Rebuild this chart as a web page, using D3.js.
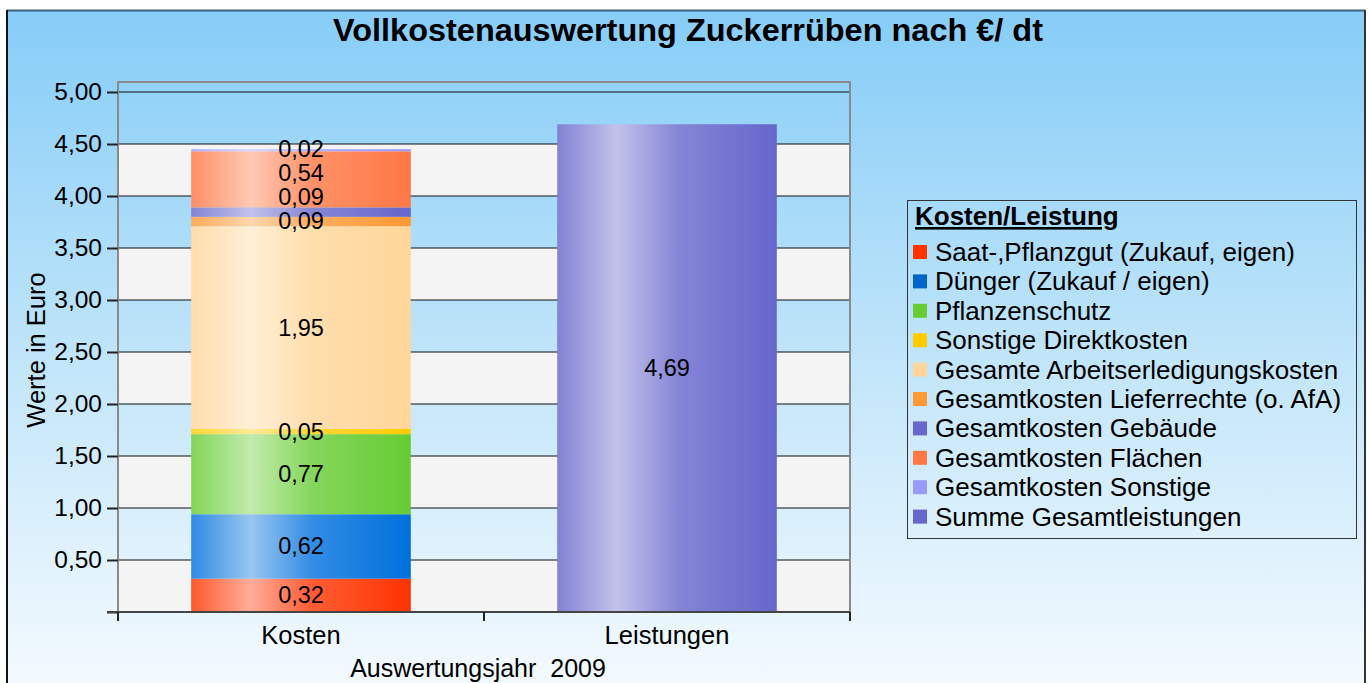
<!DOCTYPE html>
<html>
<head>
<meta charset="utf-8">
<script src="https://cdn.jsdelivr.net/npm/d3@7"></script>
<style>
  body { margin: 0; background: #fff; }
  svg text { font-family: "Liberation Sans", Arial, sans-serif; }
</style>
</head>
<body>
<svg id="chart" width="1369" height="683"></svg>
<script>
'use strict';

// data
var categories = ["Kosten", "Leistungen"];
var seriesNames = [
  "Saat-,Pflanzgut (Zukauf, eigen)",
  "Dünger (Zukauf / eigen)",
  "Pflanzenschutz",
  "Sonstige Direktkosten",
  "Gesamte Arbeitserledigungskosten",
  "Gesamtkosten Lieferrechte (o. AfA)",
  "Gesamtkosten Gebäude",
  "Gesamtkosten Flächen",
  "Gesamtkosten Sonstige",
  "Summe Gesamtleistungen"
];
var kostenValues     = [0.32, 0.62, 0.77, 0.05, 1.95, 0.09, 0.09, 0.54, 0.02, 0];
var leistungenValues = [0, 0, 0, 0, 0, 0, 0, 0, 0, 4.69];
var seriesColors = ["#ff3300", "#0070dd", "#66cc33", "#ffcc00", "#ffd699",
                    "#ff9933", "#6666cc", "#ff7744", "#9999ff", "#6666cc"];
var legendColors = ["#ff3300", "#0066cc", "#66cc33", "#ffcc00", "#ffd699",
                    "#ff9933", "#6666cc", "#ff7744", "#9999ff", "#6666cc"];
var yTicks = [0, 0.5, 1, 1.5, 2, 2.5, 3, 3.5, 4, 4.5, 5];

var svg = d3.select("#chart");
var defs = svg.append("defs");

// background gradient
var bg = defs.append("linearGradient").attr("id", "bg")
  .attr("x1", 0).attr("y1", 0).attr("x2", 0).attr("y2", 1);
bg.append("stop").attr("offset", "0%").attr("stop-color", "#86cdf8");
bg.append("stop").attr("offset", "55%").attr("stop-color", "#c6e7fa");
bg.append("stop").attr("offset", "100%").attr("stop-color", "#f6fbff");

svg.append("rect").attr("x", 7).attr("y", 10).attr("width", 1358).attr("height", 690)
  .attr("fill", "url(#bg)");
svg.append("line").attr("x1", 7).attr("x2", 1365).attr("y1", 10.5).attr("y2", 10.5)
  .attr("stroke", "#3d5f7a").attr("stroke-width", 2);
svg.append("line").attr("x1", 7).attr("x2", 7).attr("y1", 10).attr("y2", 683)
  .attr("stroke", "#111").attr("stroke-width", 2);
svg.append("line").attr("x1", 1365).attr("x2", 1365).attr("y1", 10).attr("y2", 683)
  .attr("stroke", "#333").attr("stroke-width", 2);

// bar gradients (shiny cylinder look)
seriesColors.forEach(function(c, i) {
  var g = defs.append("linearGradient").attr("id", "g" + i)
    .attr("x1", 0).attr("y1", 0).attr("x2", 1).attr("y2", 0);
  g.append("stop").attr("offset", "0%").attr("stop-color", d3.interpolateRgb(c, "#fff")(0.18));
  g.append("stop").attr("offset", "27%").attr("stop-color", d3.interpolateRgb(c, "#fff")(0.6));
  g.append("stop").attr("offset", "55%").attr("stop-color", d3.interpolateRgb(c, "#fff")(0.2));
  g.append("stop").attr("offset", "100%").attr("stop-color", c);
});

// title
svg.append("text").attr("x", 688).attr("y", 41).attr("text-anchor", "middle")
  .attr("font-size", 32).attr("font-weight", "bold")
  .attr("textLength", 710).attr("lengthAdjust", "spacingAndGlyphs")
  .text("Vollkostenauswertung Zuckerrüben nach €/ dt");

var plotLeft = 118, plotRight = 850, plotTop = 82;
var y = d3.scaleLinear().domain([0, 5]).range([612, 92]);
var x = d3.scaleBand().domain(categories).range([plotLeft, plotRight])
  .paddingInner(0.4).paddingOuter(0.2);

// alternating bands
var bands = [0, 1, 2, 3, 4];
svg.append("g").selectAll("rect").data(bands).join("rect")
  .attr("x", plotLeft).attr("width", plotRight - plotLeft)
  .attr("y", function(d) { return y(d + 0.5); })
  .attr("height", function(d) { return y(d) - y(d + 0.5); })
  .attr("fill", "#f4f4f4");

// grid lines
svg.append("g").selectAll("line").data(yTicks.slice(1)).join("line")
  .attr("x1", plotLeft).attr("x2", plotRight)
  .attr("y1", function(d) { return y(d); }).attr("y2", function(d) { return y(d); })
  .attr("stroke", "#111").attr("stroke-width", 1.2);

// plot frame
svg.append("path")
  .attr("d", "M" + plotLeft + "," + y(0) + "V" + plotTop + "H" + plotRight + "V" + y(0))
  .attr("fill", "none").attr("stroke", "#8a8a8a").attr("stroke-width", 2);

// stacked bars
var rows = categories.map(function(c, ci) {
  var vals = ci === 0 ? kostenValues : leistungenValues;
  var r = { cat: c };
  seriesNames.forEach(function(s, i) { r[s] = vals[i]; });
  return r;
});
var stacked = d3.stack().keys(seriesNames)(rows);

var barG = svg.append("g");
stacked.forEach(function(layer, i) {
  barG.selectAll(null).data(layer.filter(function(d) { return d[1] - d[0] > 0; }))
    .join("rect")
    .attr("x", function(d) { return x(d.data.cat); })
    .attr("width", x.bandwidth())
    .attr("y", function(d) { return y(d[1]); })
    .attr("height", function(d) { return y(d[0]) - y(d[1]); })
    .attr("fill", "url(#g" + i + ")");
});

// data labels, pushed apart where segments are thin
var labels = [];
categories.forEach(function(c) {
  var prev = Infinity;
  stacked.forEach(function(layer) {
    var d = layer.find(function(e) { return e.data.cat === c; });
    var v = d[1] - d[0];
    if (v <= 0) return;
    var cy = y((d[0] + d[1]) / 2);
    var ly = Math.min(cy, prev - 24);
    prev = ly;
    labels.push({ cat: c, v: v, y: ly });
  });
});
svg.append("g").selectAll("text").data(labels).join("text")
  .attr("x", function(d) { return x(d.cat) + x.bandwidth() / 2; })
  .attr("y", function(d) { return d.y + 8; })
  .attr("text-anchor", "middle").attr("font-size", 23.5).attr("fill", "#000")
  .text(function(d) { return d3.format(".2f")(d.v).replace(".", ","); });

// y axis
var yAxis = d3.axisLeft(y).tickValues(yTicks).tickSize(11).tickPadding(5)
  .tickFormat(function(d) { return d === 0 ? "" : d3.format(".2f")(d).replace(".", ","); });
var yg = svg.append("g").attr("transform", "translate(" + plotLeft + ",0)").call(yAxis);
yg.select(".domain").remove();
yg.selectAll(".tick line").attr("stroke", "#222").attr("stroke-width", 2);
yg.selectAll(".tick text").attr("font-size", 24.5).attr("fill", "#000")
  .attr("font-family", "Liberation Sans, Arial, sans-serif");

// x axis
var xg = svg.append("g").attr("transform", "translate(0," + y(0) + ")");
xg.append("line").attr("x1", plotLeft - 11).attr("x2", plotRight).attr("y1", 0).attr("y2", 0)
  .attr("stroke", "#444").attr("stroke-width", 2);
var xTickPos = [plotLeft, plotLeft + x.step(), plotRight];
xg.selectAll("line.t").data(xTickPos).join("line").attr("class", "t")
  .attr("x1", function(d) { return d; }).attr("x2", function(d) { return d; })
  .attr("y1", 0).attr("y2", 9).attr("stroke", "#222").attr("stroke-width", 2);
xg.selectAll("text").data(categories).join("text")
  .attr("x", function(d) { return x(d) + x.bandwidth() / 2; })
  .attr("y", 32).attr("text-anchor", "middle").attr("font-size", 25.5).text(function(d) { return d; });

svg.append("text").attr("x", 478).attr("y", 677).attr("text-anchor", "middle")
  .attr("font-size", 25).attr("xml:space", "preserve").text("Auswertungsjahr  2009");

svg.append("text").attr("transform", "translate(45,350) rotate(-90)")
  .attr("text-anchor", "middle").attr("font-size", 25.5).text("Werte in Euro");

// legend
var lg = svg.append("g");
lg.append("rect").attr("x", 907.5).attr("y", 200.5).attr("width", 449).attr("height", 338)
  .attr("fill", "none").attr("stroke", "#333").attr("stroke-width", 1);
lg.append("text").attr("x", 915).attr("y", 225).attr("font-size", 26)
  .attr("font-weight", "bold").attr("text-decoration", "underline").text("Kosten/Leistung");
var items = lg.selectAll("g.item").data(seriesNames).join("g").attr("class", "item")
  .attr("transform", function(d, i) { return "translate(913," + (252 + i * 29.4) + ")"; });
items.append("rect").attr("x", 0).attr("y", -7).attr("width", 14).attr("height", 14)
  .attr("fill", function(d, i) { return legendColors[i]; });
items.append("text").attr("x", 22).attr("y", 9).attr("font-size", 26)
  .text(function(d) { return d; });
</script>
</body>
</html>
